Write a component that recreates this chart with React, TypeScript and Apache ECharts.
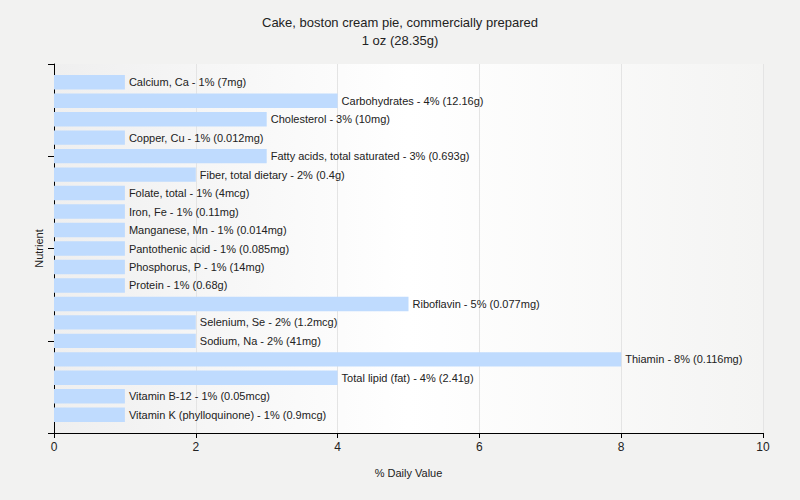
import React, { useEffect, useRef } from "react";
import * as echarts from "echarts";

const nutrients = [
  "Calcium, Ca",
  "Carbohydrates",
  "Cholesterol",
  "Copper, Cu",
  "Fatty acids, total saturated",
  "Fiber, total dietary",
  "Folate, total",
  "Iron, Fe",
  "Manganese, Mn",
  "Pantothenic acid",
  "Phosphorus, P",
  "Protein",
  "Riboflavin",
  "Selenium, Se",
  "Sodium, Na",
  "Thiamin",
  "Total lipid (fat)",
  "Vitamin B-12",
  "Vitamin K (phylloquinone)",
];
const dailyValues = [1, 4, 3, 1, 3, 2, 1, 1, 1, 1, 1, 1, 5, 2, 2, 8, 4, 1, 1];
const amounts = [
  "7mg", "12.16g", "10mg", "0.012mg", "0.693g", "0.4g", "4mcg", "0.11mg", "0.014mg",
  "0.085mg", "14mg", "0.68g", "0.077mg", "1.2mcg", "41mg", "0.116mg", "2.41g", "0.05mcg", "0.9mcg",
];
const xTicks = [0, 2, 4, 6, 8, 10];

const FONT = "Liberation Sans, Arial, sans-serif";

export default function App() {
  const ref = useRef<HTMLDivElement>(null);
  useEffect(() => {
    if (!ref.current) return;
    const chart = echarts.init(ref.current, null, { renderer: "svg" });
    chart.setOption({
      animation: false,
      backgroundColor: "#f2f2f1",
      title: {
        text: "Cake, boston cream pie, commercially prepared\n1 oz (28.35g)",
        left: "center",
        top: 8,
        textStyle: { fontFamily: FONT, fontSize: 13, fontWeight: "normal", color: "#222", lineHeight: 18 },
      },
      grid: [
        {
          left: 54,
          right: 37,
          top: 64,
          bottom: 67,
          show: true,
          borderWidth: 0,
          backgroundColor: new echarts.graphic.LinearGradient(0, 0, 1, 0, [
            { offset: 0, color: "#efefef" },
            { offset: 0.5, color: "#ffffff" },
            { offset: 1, color: "#f4f4f3" },
          ]),
        },
        { left: 54, right: 37, top: 73, bottom: 76 },
      ],
      xAxis: [
        {
          type: "value",
          gridIndex: 0,
          min: xTicks[0],
          max: xTicks[xTicks.length - 1],
          interval: 2,
          name: "% Daily Value",
          nameLocation: "middle",
          nameGap: 34,
          nameTextStyle: { fontFamily: FONT, fontSize: 11, color: "#222" },
          axisLine: { show: true, lineStyle: { color: "#000", width: 1 } },
          axisTick: { show: true, length: 5, lineStyle: { color: "#000" } },
          axisLabel: { fontFamily: FONT, fontSize: 12, color: "#222", margin: 8 },
          splitLine: { show: true, lineStyle: { color: "#e4e4e4" } },
        },
        {
          type: "value",
          gridIndex: 1,
          min: xTicks[0],
          max: xTicks[xTicks.length - 1],
          interval: 2,
          show: false,
        },
      ],
      yAxis: [
        {
          type: "value",
          gridIndex: 0,
          min: 0,
          max: 4,
          interval: 1,
          name: "Nutrient",
          nameLocation: "middle",
          nameGap: 10,
          nameTextStyle: { fontFamily: FONT, fontSize: 11, color: "#222" },
          axisLine: { show: true, lineStyle: { color: "#000" } },
          axisTick: { show: true, length: 6, lineStyle: { color: "#000" } },
          axisLabel: { show: false },
          splitLine: { show: false },
        },
        {
          type: "category",
          gridIndex: 1,
          data: nutrients,
          inverse: true,
          axisLine: { show: false },
          axisTick: { show: false },
          axisLabel: { show: false },
          splitLine: { show: false },
        },
      ],
      series: [
        {
          type: "bar",
          xAxisIndex: 1,
          yAxisIndex: 1,
          data: dailyValues,
          barCategoryGap: "22%",
          itemStyle: { color: "#bfdbfe" },
          label: {
            show: true,
            position: "right",
            distance: 4,
            fontFamily: FONT,
            fontSize: 11,
            color: "#222",
            formatter: (p: any) => `${nutrients[p.dataIndex]} - ${dailyValues[p.dataIndex]}% (${amounts[p.dataIndex]})`,
          },
        },
      ],
    });
    return () => chart.dispose();
  }, []);
  return <div ref={ref} style={{ width: 800, height: 500, position: "absolute", left: 0, top: 0 }} />;
}
